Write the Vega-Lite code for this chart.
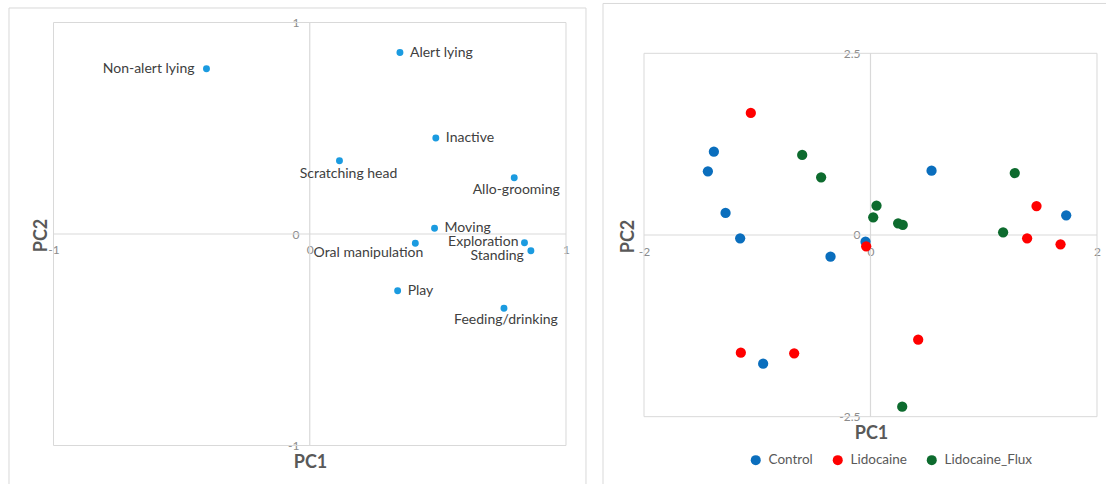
{
  "$schema": "https://vega.github.io/schema/vega-lite/v6.json",
  "padding": 0,
  "spacing": 0,
  "bounds": "flush",
  "config": {
    "view": {"stroke": null},
    "font": "Lato",
    "axis": {
      "domain": false, "ticks": false, "grid": false,
      "labelFont": "Lato", "labelFontSize": 12, "labelColor": "#8c8c8c",
      "titleFont": "Lato", "titleFontSize": 18, "titleFontWeight": "bold", "titleColor": "#595959",
      "labelFlush": false, "labelOverlap": false
    },
    "text": {"font": "Lato", "fontSize": 14, "color": "#404040"}
  },
  "hconcat": [
    {
      "width": 595,
      "height": 484,
      "data": {"values": [
        {"behaviour": "Non-alert lying", "PC1": -0.403, "PC2": 0.781},
        {"behaviour": "Alert lying", "PC1": 0.352, "PC2": 0.858},
        {"behaviour": "Inactive", "PC1": 0.492, "PC2": 0.454},
        {"behaviour": "Scratching head", "PC1": 0.116, "PC2": 0.346},
        {"behaviour": "Allo-grooming", "PC1": 0.798, "PC2": 0.266},
        {"behaviour": "Moving", "PC1": 0.487, "PC2": 0.027},
        {"behaviour": "Oral manipulation", "PC1": 0.412, "PC2": -0.044},
        {"behaviour": "Exploration", "PC1": 0.838, "PC2": -0.041},
        {"behaviour": "Standing", "PC1": 0.863, "PC2": -0.079},
        {"behaviour": "Play", "PC1": 0.343, "PC2": -0.268},
        {"behaviour": "Feeding/drinking", "PC1": 0.758, "PC2": -0.351}
      ]},
      "layer": [
        {
          "data": {"values": [{}]},
          "mark": {"type": "rect", "fillOpacity": 0, "stroke": "#d9d9d9", "strokeWidth": 1, "clip": true},
          "encoding": {
            "x": {"datum": -1.1737, "type": "quantitative",
                  "scale": {"domain": [-1.2088, 1.1132], "nice": false, "zero": false},
                  "axis": {"orient": "bottom", "offset": -250, "values": [-1, 0, 1], "labelPadding": 10,
                           "labelExpr": "toString(datum.value)",
                           "title": "PC1", "titleX": 310, "titleY": 228, "titleBaseline": "middle"}},
            "x2": {"datum": 1.078},
            "y": {"datum": 1.0686, "type": "quantitative",
                  "scale": {"domain": [-1.182, 1.1064], "nice": false, "zero": false},
                  "axis": {"orient": "left", "offset": -310, "values": [-1, 0, 1], "labelPadding": 11,
                           "labelExpr": "toString(datum.value)",
                           "title": "PC2", "titleX": -269, "titleY": 235, "titleBaseline": "middle"}},
            "y2": {"datum": -1.6}
          }
        },
        {
          "data": {"values": [{}]},
          "mark": {"type": "rect", "fillOpacity": 0, "stroke": "#d9d9d9", "strokeWidth": 1},
          "encoding": {
            "x": {"datum": -1, "type": "quantitative"},
            "x2": {"datum": 1},
            "y": {"datum": -1, "type": "quantitative"},
            "y2": {"datum": 1}
          }
        },
        {
          "data": {"values": [{}]},
          "mark": {"type": "rule", "color": "#d9d9d9", "strokeWidth": 1.2},
          "encoding": {
            "x": {"datum": -1, "type": "quantitative"},
            "x2": {"datum": 1},
            "y": {"datum": 0, "type": "quantitative"}
          }
        },
        {
          "data": {"values": [{}]},
          "mark": {"type": "rule", "color": "#d9d9d9", "strokeWidth": 1.2},
          "encoding": {
            "x": {"datum": 0, "type": "quantitative"},
            "y": {"datum": -1, "type": "quantitative"},
            "y2": {"datum": 1}
          }
        },
        {
          "mark": {"type": "circle", "size": 48, "color": "#1b9be0", "opacity": 1},
          "encoding": {
            "x": {"field": "PC1", "type": "quantitative"},
            "y": {"field": "PC2", "type": "quantitative"}
          }
        },
        {
          "transform": [{"filter": {"field": "behaviour", "oneOf": ["Alert lying", "Inactive", "Moving", "Play"]}}],
          "mark": {"type": "text", "align": "left", "baseline": "middle", "dx": 10},
          "encoding": {
            "x": {"field": "PC1", "type": "quantitative"},
            "y": {"field": "PC2", "type": "quantitative"},
            "text": {"field": "behaviour"}
          }
        },
        {
          "transform": [{"filter": {"field": "behaviour", "oneOf": ["Non-alert lying"]}}],
          "mark": {"type": "text", "align": "right", "baseline": "middle", "dx": -12},
          "encoding": {
            "x": {"field": "PC1", "type": "quantitative"},
            "y": {"field": "PC2", "type": "quantitative"},
            "text": {"field": "behaviour"}
          }
        },
        {
          "transform": [{"filter": {"field": "behaviour", "oneOf": ["Exploration"]}}],
          "mark": {"type": "text", "align": "right", "baseline": "middle", "dx": -6, "dy": -1},
          "encoding": {
            "x": {"field": "PC1", "type": "quantitative"},
            "y": {"field": "PC2", "type": "quantitative"},
            "text": {"field": "behaviour"}
          }
        },
        {
          "transform": [{"filter": {"field": "behaviour", "oneOf": ["Standing"]}}],
          "mark": {"type": "text", "align": "right", "baseline": "middle", "dx": -7, "dy": 5},
          "encoding": {
            "x": {"field": "PC1", "type": "quantitative"},
            "y": {"field": "PC2", "type": "quantitative"},
            "text": {"field": "behaviour"}
          }
        },
        {
          "transform": [{"filter": {"field": "behaviour", "oneOf": ["Oral manipulation"]}}],
          "mark": {"type": "text", "align": "right", "baseline": "middle", "dx": 8, "dy": 10},
          "encoding": {
            "x": {"field": "PC1", "type": "quantitative"},
            "y": {"field": "PC2", "type": "quantitative"},
            "text": {"field": "behaviour"}
          }
        },
        {
          "transform": [{"filter": {"field": "behaviour", "oneOf": ["Scratching head"]}}],
          "mark": {"type": "text", "align": "center", "baseline": "middle", "dx": 9, "dy": 13},
          "encoding": {
            "x": {"field": "PC1", "type": "quantitative"},
            "y": {"field": "PC2", "type": "quantitative"},
            "text": {"field": "behaviour"}
          }
        },
        {
          "transform": [{"filter": {"field": "behaviour", "oneOf": ["Allo-grooming", "Feeding/drinking"]}}],
          "mark": {"type": "text", "align": "center", "baseline": "middle", "dx": 2, "dy": 12},
          "encoding": {
            "x": {"field": "PC1", "type": "quantitative"},
            "y": {"field": "PC2", "type": "quantitative"},
            "text": {"field": "behaviour"}
          }
        }
      ]
    },
    {
      "width": 511,
      "height": 484,
      "data": {"values": [
        {"group": "Control", "PC1": -1.383, "PC2": 1.147},
        {"group": "Control", "PC1": -1.436, "PC2": 0.876},
        {"group": "Control", "PC1": -1.28, "PC2": 0.303},
        {"group": "Control", "PC1": -1.151, "PC2": -0.046},
        {"group": "Control", "PC1": -0.353, "PC2": -0.298},
        {"group": "Control", "PC1": -0.044, "PC2": -0.092},
        {"group": "Control", "PC1": 0.539, "PC2": 0.885},
        {"group": "Control", "PC1": 1.728, "PC2": 0.271},
        {"group": "Control", "PC1": -0.948, "PC2": -1.771},
        {"group": "Lidocaine", "PC1": -1.057, "PC2": 1.679},
        {"group": "Lidocaine", "PC1": -0.038, "PC2": -0.156},
        {"group": "Lidocaine", "PC1": -1.145, "PC2": -1.619},
        {"group": "Lidocaine", "PC1": -0.674, "PC2": -1.628},
        {"group": "Lidocaine", "PC1": 0.421, "PC2": -1.44},
        {"group": "Lidocaine", "PC1": 1.466, "PC2": 0.399},
        {"group": "Lidocaine", "PC1": 1.383, "PC2": -0.046},
        {"group": "Lidocaine", "PC1": 1.678, "PC2": -0.128},
        {"group": "Lidocaine_Flux", "PC1": -0.603, "PC2": 1.101},
        {"group": "Lidocaine_Flux", "PC1": -0.436, "PC2": 0.794},
        {"group": "Lidocaine_Flux", "PC1": 0.053, "PC2": 0.404},
        {"group": "Lidocaine_Flux", "PC1": 0.024, "PC2": 0.243},
        {"group": "Lidocaine_Flux", "PC1": 0.244, "PC2": 0.161},
        {"group": "Lidocaine_Flux", "PC1": 0.285, "PC2": 0.138},
        {"group": "Lidocaine_Flux", "PC1": 1.171, "PC2": 0.037},
        {"group": "Lidocaine_Flux", "PC1": 1.274, "PC2": 0.853},
        {"group": "Lidocaine_Flux", "PC1": 0.28, "PC2": -2.362}
      ]},
      "layer": [
        {
          "data": {"values": [{}]},
          "mark": {"type": "rect", "fillOpacity": 0, "stroke": "#d9d9d9", "strokeWidth": 1, "clip": true},
          "encoding": {
            "x": {"datum": -2.362, "type": "quantitative",
                  "scale": {"domain": [-2.4327, 2.0795], "nice": false, "zero": false},
                  "axis": {"orient": "bottom", "offset": -249, "values": [-2, 0, 2], "labelPadding": 11,
                           "labelExpr": "toString(datum.value)",
                           "title": "PC1", "titleX": 276, "titleY": 198, "titleBaseline": "middle"}},
            "x2": {"datum": 3},
            "y": {"datum": 3.186, "type": "quantitative",
                  "scale": {"domain": [-3.4265, 3.2338], "nice": false, "zero": false},
                  "axis": {"orient": "left", "offset": -276, "values": [-2.5, 0, 2.5], "labelPadding": 11,
                           "labelExpr": "toString(datum.value)",
                           "title": "PC2", "titleX": -243, "titleY": 236, "titleBaseline": "middle"}},
            "y2": {"datum": -5}
          }
        },
        {
          "data": {"values": [{}]},
          "mark": {"type": "rect", "fillOpacity": 0, "stroke": "#d9d9d9", "strokeWidth": 1},
          "encoding": {
            "x": {"datum": -2, "type": "quantitative"},
            "x2": {"datum": 2},
            "y": {"datum": -2.5, "type": "quantitative"},
            "y2": {"datum": 2.5}
          }
        },
        {
          "data": {"values": [{}]},
          "mark": {"type": "rule", "color": "#d9d9d9", "strokeWidth": 1.2},
          "encoding": {
            "x": {"datum": -2, "type": "quantitative"},
            "x2": {"datum": 2},
            "y": {"datum": 0, "type": "quantitative"}
          }
        },
        {
          "data": {"values": [{}]},
          "mark": {"type": "rule", "color": "#d9d9d9", "strokeWidth": 1.2},
          "encoding": {
            "x": {"datum": 0, "type": "quantitative"},
            "y": {"datum": -2.5, "type": "quantitative"},
            "y2": {"datum": 2.5}
          }
        },
        {
          "mark": {"type": "circle", "size": 105, "opacity": 1},
          "encoding": {
            "x": {"field": "PC1", "type": "quantitative"},
            "y": {"field": "PC2", "type": "quantitative"},
            "color": {
              "field": "group", "type": "nominal",
              "scale": {"domain": ["Control", "Lidocaine", "Lidocaine_Flux"], "range": ["#0a6ebd", "#ff0000", "#0d6b2e"]},
              "legend": {"orient": "none", "legendX": 749, "legendY": 453, "direction": "horizontal", "title": null,
                         "symbolType": "circle", "symbolSize": 100, "symbolOpacity": 1, "symbolStrokeWidth": 0,
                         "labelFont": "Lato", "labelFontSize": 13.5, "labelColor": "#595959",
                         "columnPadding": 18, "labelOffset": 6}
            }
          }
        }
      ]
    }
  ]
}
